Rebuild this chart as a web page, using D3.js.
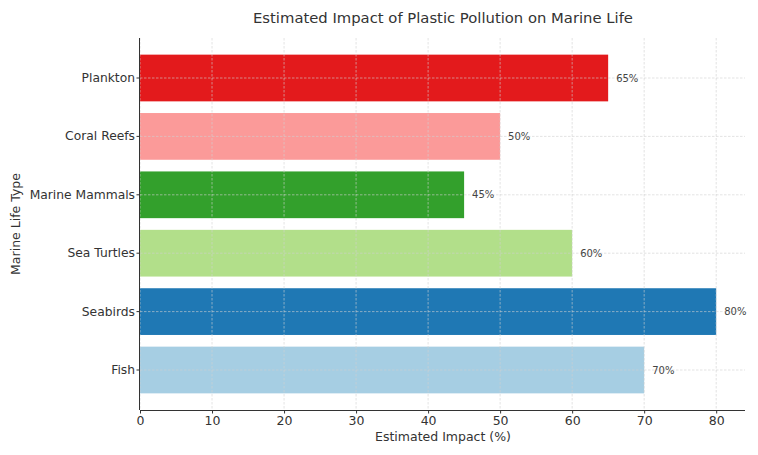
<!DOCTYPE html>
<html>
<head>
<meta charset="utf-8">
<script src="https://cdn.jsdelivr.net/npm/d3@7"></script>
<style>
  body { margin: 0; background: #fff; }
  text { font-family: "DejaVu Sans", sans-serif; }
</style>
</head>
<body>
<script>
const width = 758;
const height = 455;

// data
const categories = ["Fish", "Seabirds", "Sea Turtles", "Marine Mammals", "Coral Reefs", "Plankton"];
const impact = [70, 80, 60, 45, 50, 65];
const barColors = ["#a6cee3", "#1f78b4", "#b2df8a", "#33a02c", "#fb9a99", "#e31a1c"];
const xTicks = [0, 10, 20, 30, 40, 50, 60, 70, 80];

const data = categories.map((c, i) => ({ name: c, value: impact[i], color: barColors[i] }));

const plotLeft = 140, plotRight = 745, plotTop = 38, plotBottom = 410;

const svg = d3.select("body").append("svg")
    .attr("width", width)
    .attr("height", height);

const x = d3.scaleLinear().domain([0, 84]).range([plotLeft, plotRight]);
// plankton at the top, fish at the bottom
const y = d3.scaleBand()
    .domain(categories.slice().reverse())
    .range([48.8, 399.2])
    .paddingInner(0.2)
    .paddingOuter(0.1);

// bars
svg.append("g")
    .selectAll("rect")
    .data(data)
    .enter().append("rect")
    .attr("x", x(0))
    .attr("y", d => y(d.name))
    .attr("width", d => x(d.value) - x(0))
    .attr("height", y.bandwidth())
    .style("fill", d => d.color);

// grid sits on top of the bars
const grid = svg.append("g")
    .style("stroke", "#d0d0d0")
    .style("stroke-opacity", 0.75)
    .style("stroke-width", 0.8)
    .style("stroke-dasharray", "2.5,1.5");
grid.selectAll("line.v")
    .data(xTicks)
    .enter().append("line")
    .attr("x1", d => x(d)).attr("x2", d => x(d))
    .attr("y1", plotTop).attr("y2", plotBottom);
grid.selectAll("line.h")
    .data(categories)
    .enter().append("line")
    .attr("x1", plotLeft).attr("x2", plotRight)
    .attr("y1", d => y(d) + y.bandwidth() / 2)
    .attr("y2", d => y(d) + y.bandwidth() / 2);

// value labels
svg.append("g")
    .selectAll("text")
    .data(data)
    .enter().append("text")
    .attr("x", d => x(d.value) + 8)
    .attr("y", d => y(d.name) + y.bandwidth() / 2)
    .attr("dy", "0.35em")
    .style("font-size", "10px")
    .style("fill", "#444")
    .text(d => d.value + "%");

// axes
const xAxis = svg.append("g")
    .attr("transform", `translate(0,${plotBottom})`)
    .call(d3.axisBottom(x).tickValues(xTicks).tickSize(3.5).tickPadding(3));
xAxis.select(".domain").attr("d", `M${plotLeft},0.5H${plotRight}`).style("stroke", "#333");
xAxis.selectAll(".tick line").style("stroke", "#333");
xAxis.selectAll(".tick text").style("font-size", "12.5px").style("fill", "#333");

const yAxis = svg.append("g")
    .attr("transform", `translate(${plotLeft},0)`)
    .call(d3.axisLeft(y).tickSize(3.5).tickPadding(1.5));
yAxis.select(".domain").attr("d", `M-0.5,${plotTop}V${plotBottom}`).style("stroke", "#333");
yAxis.selectAll(".tick line").style("stroke", "#333");
yAxis.selectAll(".tick text").style("font-size", "12.3px").style("fill", "#333");

// titles
svg.append("text")
    .attr("x", 443)
    .attr("y", 23)
    .attr("text-anchor", "middle")
    .style("font-size", "14.8px")
    .style("fill", "#333")
    .text("Estimated Impact of Plastic Pollution on Marine Life");

svg.append("text")
    .attr("x", 443)
    .attr("y", 441)
    .attr("text-anchor", "middle")
    .style("font-size", "12.5px")
    .style("fill", "#333")
    .text("Estimated Impact (%)");

svg.append("text")
    .attr("transform", `translate(20,${(plotTop + plotBottom) / 2}) rotate(-90)`)
    .attr("text-anchor", "middle")
    .style("font-size", "12.5px")
    .style("fill", "#333")
    .text("Marine Life Type");
</script>
</body>
</html>
